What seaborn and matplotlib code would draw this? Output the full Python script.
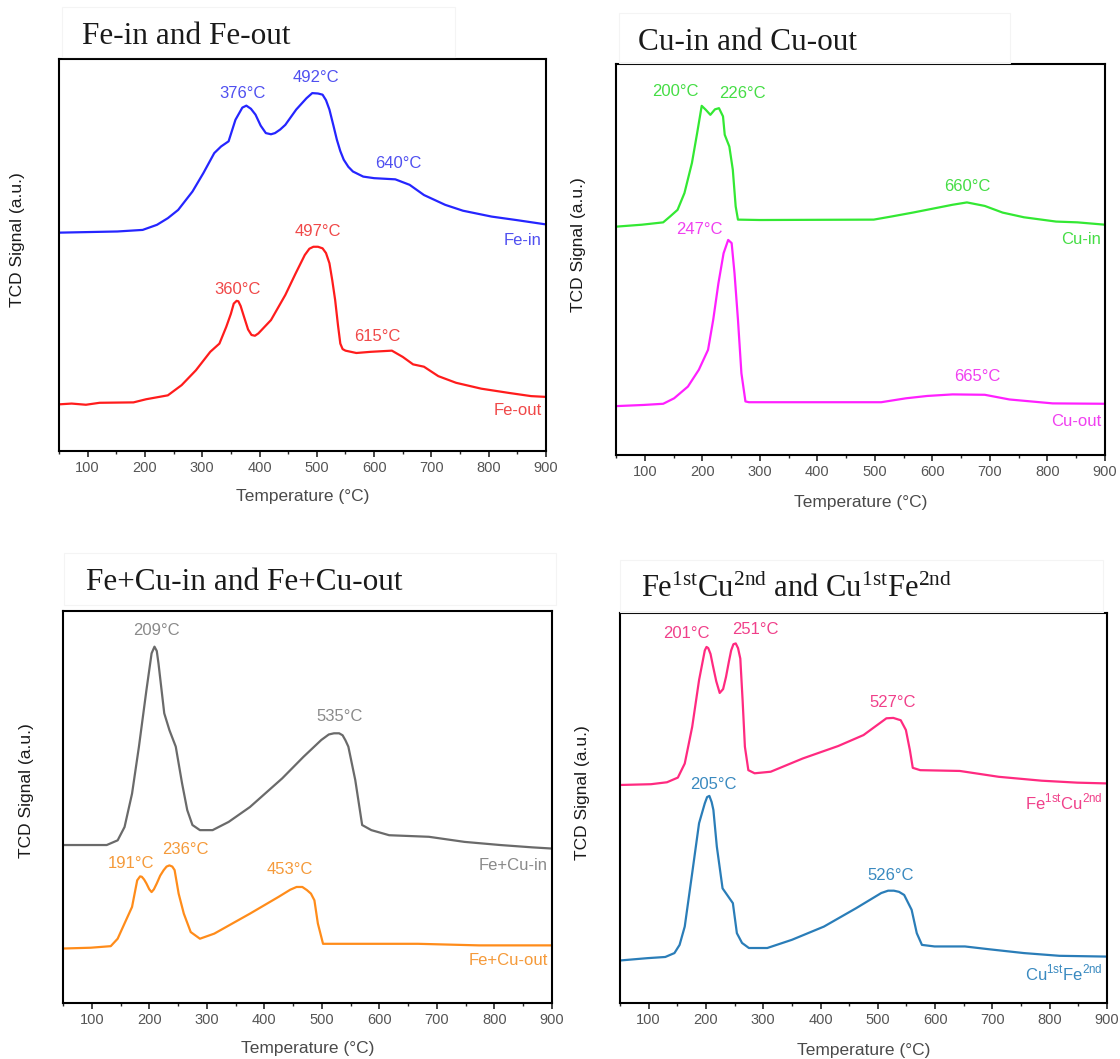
import numpy as np
import pandas as pd
import matplotlib
matplotlib.use("Agg")
import matplotlib.pyplot as plt
from matplotlib.patches import Rectangle
from matplotlib.ticker import MultipleLocator
import seaborn as sns

# ---------------- data (y in arbitrary units 0-100) ----------------
fe_in_T = [50, 152, 196, 221, 240, 258, 283, 302, 321, 333, 346, 358, 370, 377, 385, 393, 402, 411, 420, 427, 436,
           445, 464, 482, 492, 502, 510, 516, 522, 529, 535, 541, 547, 555, 563, 581, 600, 637, 662, 687, 724, 755,
           805, 849, 900]
fe_in_v = [55.7, 56.0, 56.4, 57.7, 59.4, 61.5, 66.2, 70.9, 76.0, 77.7, 79.0, 84.5, 87.6, 88.1, 87.3, 85.8, 83.0, 81.1,
           80.8, 81.1, 82.0, 83.2, 87.1, 90.0, 91.3, 91.2, 90.9, 89.5, 87.1, 83.0, 79.4, 76.5, 74.3, 72.5, 71.3, 70.0,
           69.6, 69.3, 67.9, 65.3, 62.8, 61.3, 59.8, 58.9, 57.8]
fe_out_T = [50, 72, 97, 121, 180, 202, 240, 264, 289, 314, 330, 342, 350, 355, 360, 363, 367, 373, 380, 386, 392, 398,
            420, 445, 463, 479, 487, 494, 502, 510, 516, 522, 527, 532, 537, 541, 545, 550, 569, 594, 631, 650, 668,
            687, 712, 743, 787, 836, 874, 900]
fe_out_v = [11.9, 12.1, 11.8, 12.3, 12.4, 13.2, 14.2, 16.8, 20.6, 25.3, 27.4, 31.7, 35.0, 37.6, 38.3, 38.2, 37.0,
            34.2, 31.0, 29.6, 29.4, 30.0, 33.4, 39.8, 45.3, 50.0, 51.6, 52.1, 52.1, 51.7, 50.5, 47.9, 43.5, 38.5, 32.0,
            27.4, 26.0, 25.6, 25.0, 25.3, 25.6, 24.0, 22.1, 21.5, 19.1, 17.4, 15.9, 14.8, 14.0, 13.8]

cu_in_T = [50, 95, 132, 144, 157, 169, 182, 191, 199, 206, 214, 222, 229, 236, 239, 247, 253, 258, 262, 300, 498,
           529, 566, 604, 635, 660, 691, 722, 759, 815, 852, 900]
cu_in_v = [58.4, 58.9, 59.5, 61.0, 62.7, 67.0, 74.7, 82.3, 89.3, 88.3, 87.0, 88.4, 88.7, 86.6, 81.9, 78.9, 73.0,
           63.6, 60.2, 60.1, 60.2, 61.0, 62.0, 63.1, 64.0, 64.6, 63.7, 62.0, 60.8, 59.7, 59.5, 58.9]
cu_out_T = [50, 98, 132, 151, 175, 194, 210, 219, 228, 237, 245, 251, 256, 262, 268, 275, 281, 511, 554, 591, 635,
            691, 734, 809, 900]
cu_out_v = [12.5, 12.8, 13.1, 14.5, 17.5, 21.8, 26.9, 34.6, 43.9, 51.6, 55.0, 54.2, 46.5, 34.6, 20.9, 13.7, 13.5,
            13.5, 14.5, 15.1, 15.5, 15.4, 14.2, 13.2, 13.1]

fecu_in_T = [50, 126, 145, 157, 170, 182, 195, 204, 209, 213, 216, 226, 235, 246, 257, 266, 275, 288, 310, 338, 375,
             431, 468, 499, 512, 521, 530, 536, 541, 546, 558, 570, 586, 617, 686, 748, 810, 866, 900]
fecu_in_v = [40.3, 40.3, 41.5, 44.9, 53.4, 65.4, 79.8, 89.2, 90.9, 89.8, 86.6, 73.9, 69.6, 65.4, 56.0, 49.2, 45.4,
             44.1, 44.1, 46.2, 50.0, 57.3, 62.8, 67.1, 68.5, 68.8, 68.8, 68.3, 67.0, 65.4, 56.9, 45.4, 44.1, 42.8,
             42.4, 41.1, 40.3, 39.7, 39.4]
fecu_out_T = [50, 98, 133, 145, 157, 170, 179, 184, 187, 191, 195, 200, 204, 208, 213, 219, 225, 230, 235, 240, 244,
              251, 260, 272, 288, 313, 375, 425, 445, 456, 466, 474, 481, 487, 493, 502, 561, 667, 773, 900]
fecu_out_v = [13.9, 14.1, 14.5, 16.4, 20.3, 24.5, 31.3, 32.3, 32.2, 31.5, 30.5, 29.0, 28.3, 29.0, 30.5, 32.5, 33.9,
              34.8, 35.1, 34.8, 33.9, 27.9, 22.8, 18.1, 16.4, 17.7, 22.8, 27.1, 28.9, 29.6, 29.6, 28.8, 27.9, 26.2,
              20.3, 15.1, 15.1, 15.1, 14.7, 14.7]

fc_T = [50, 104, 132, 151, 163, 176, 188, 198, 201, 204, 208, 212, 218, 224, 230, 235, 240, 244, 248, 252, 256, 260,
        264, 268, 274, 285, 313, 369, 431, 475, 515, 527, 540, 549, 556, 561, 574, 643, 711, 786, 848, 900]
fc_v = [55.9, 56.1, 56.6, 57.8, 61.4, 70.8, 82.8, 90.4, 91.3, 91.0, 89.5, 86.6, 82.5, 79.5, 80.5, 83.6, 87.5, 90.4,
        92.0, 92.2, 91.0, 88.3, 77.6, 65.7, 59.7, 58.9, 59.3, 62.7, 65.9, 68.7, 73.0, 73.1, 72.5, 70.0, 64.8, 60.3,
        59.7, 59.5, 58.0, 57.0, 56.5, 56.3]
cf_T = [50, 98, 129, 145, 154, 163, 176, 188, 198, 202, 206, 210, 213, 219, 229, 238, 247, 254, 263, 275, 307, 350,
        406, 462, 506, 518, 528, 537, 546, 559, 568, 577, 599, 652, 693, 755, 817, 900]
cf_v = [10.9, 11.5, 11.8, 12.8, 14.9, 19.6, 33.3, 46.1, 51.2, 52.8, 53.1, 51.5, 49.5, 40.1, 29.4, 27.5, 25.6, 17.9,
        15.4, 14.1, 14.1, 16.2, 19.6, 24.3, 28.2, 28.8, 28.8, 28.5, 27.7, 23.9, 17.9, 14.9, 14.5, 14.5, 13.8, 12.8,
        12.1, 11.9]

xticks = [100, 200, 300, 400, 500, 600, 700, 800, 900]

# ---------------- style ----------------
sns.set_style("white")
plt.rcParams["font.family"] = ["Liberation Sans", "DejaVu Sans"]
plt.rcParams["mathtext.fontset"] = "custom"
plt.rcParams["mathtext.rm"] = "Liberation Serif"
plt.rcParams["mathtext.sf"] = "Liberation Sans"

W, H = 1120, 1059
fig = plt.figure(figsize=(W / 100, H / 100), dpi=100)
fig.patch.set_facecolor("white")


def frac_box(l, t, r, b):
    return [l / W, (H - b) / H, (r - l) / W, (b - t) / H]


panels = [
    dict(box=(59, 59, 546, 451), title="Fe-in and Fe-out", tsize=22.5, tpos=(82, 37), tbox=(62, 7, 455, 57),
         ylab=(18, 240), xlab_y=497,
         series=[(fe_in_T, fe_in_v, "#2525ff"), (fe_out_T, fe_out_v, "#ff1c1c")],
         notes=[("376°C", 370, 91.2, "#5050f0"), ("492°C", 499, 95.2, "#5050f0"), ("640°C", 642, 73.4, "#5050f0"),
                ("497°C", 501, 56.0, "#f04848"), ("360°C", 362, 41.2, "#f04848"), ("615°C", 605, 29.1, "#f04848")],
         names=[("Fe-in", 53.8, "#5050f0"), ("Fe-out", 10.4, "#f04848")]),
    dict(box=(616, 64, 1105, 455), title="Cu-in and Cu-out", tsize=22.5, tpos=(638, 42), tbox=(619, 13, 1010, 63),
         ylab=(579, 245), xlab_y=502,
         series=[(cu_in_T, cu_in_v, "#33e833"), (cu_out_T, cu_out_v, "#ff20ff")],
         notes=[("200°C", 154, 93.0, "#45dd45"), ("226°C", 270, 92.4, "#45dd45"), ("660°C", 661, 68.7, "#45dd45"),
                ("247°C", 195, 57.6, "#f040f0"), ("665°C", 678, 20.2, "#f040f0")],
         names=[("Cu-in", 55.0, "#45dd45"), ("Cu-out", 8.5, "#f040f0")]),
    dict(box=(63, 611, 552, 1003), title="Fe+Cu-in and Fe+Cu-out", tsize=22.5, tpos=(86, 583),
         tbox=(64, 553, 556, 605), ylab=(26, 791), xlab_y=1048,
         series=[(fecu_in_T, fecu_in_v, "#6a6a6a"), (fecu_out_T, fecu_out_v, "#ff8c1a")],
         notes=[("209°C", 213, 95.1, "#8a8a8a"), ("535°C", 530, 73.0, "#8a8a8a"), ("191°C", 169, 35.7, "#f59a3a"),
                ("236°C", 262, 39.1, "#f59a3a"), ("453°C", 445, 34.0, "#f59a3a")],
         names=[("Fe+Cu-in", 35.1, "#8a8a8a"), ("Fe+Cu-out", 10.9, "#f59a3a")]),
    dict(box=(620, 613, 1107, 1003),
         title=r"Fe$^{\mathrm{1st}}$Cu$^{\mathrm{2nd}}$ and Cu$^{\mathrm{1st}}$Fe$^{\mathrm{2nd}}$", tsize=22,
         tpos=(641, 588), tbox=(620, 560, 1103, 612),
         ylab=(582, 793), xlab_y=1050,
         series=[(fc_T, fc_v, "#ff2a80"), (cf_T, cf_v, "#2a7db8")],
         notes=[("201°C", 165, 94.7, "#f0408a"), ("251°C", 287, 95.7, "#f0408a"), ("527°C", 525, 77.0, "#f0408a"),
                ("205°C", 213, 55.9, "#3a8ac0"), ("526°C", 523, 32.8, "#3a8ac0")],
         names=[(r"Fe$^{\mathsf{1st}}$Cu$^{\mathsf{2nd}}$", 51.6, "#f0408a"),
                (r"Cu$^{\mathsf{1st}}$Fe$^{\mathsf{2nd}}$", 7.7, "#3a8ac0")]),
]

for p in panels:
    l, t, r, b = p["box"]
    ax = fig.add_axes(frac_box(l, t, r, b))
    for T, v, c in p["series"]:
        df = pd.DataFrame({"T": T, "v": v})
        sns.lineplot(data=df, x="T", y="v", ax=ax, color=c, linewidth=1.6, estimator=None, sort=False)
    ax.set_xlim(50, 900)
    ax.set_ylim(0, 100)
    ax.set_yticks([])
    ax.set_xticks(xticks)
    ax.set_xticklabels([str(x) for x in xticks])
    ax.xaxis.set_minor_locator(MultipleLocator(50))
    ax.tick_params(axis="x", which="major", direction="out", length=4.5, width=1.2, pad=3,
                   labelsize=10.5, labelcolor="#555555", bottom=True)
    ax.tick_params(axis="x", which="minor", direction="out", length=2.5, width=1.0, bottom=True)
    for s in ax.spines.values():
        s.set_linewidth(1.5)
        s.set_color("black")
    ax.set_xlabel("")
    ax.set_ylabel("")
    for txt, x, y, c in p["notes"]:
        ax.text(x, y, txt, color=c, fontsize=12, ha="center", va="center")
    for txt, y, c in p["names"]:
        ax.text(893, y, txt, color=c, fontsize=12, ha="right", va="center")
    # title with faint frame
    tl, tt, tr, tb = p["tbox"]
    fig.patches.append(Rectangle((tl / W, (H - tb) / H), (tr - tl) / W, (tb - tt) / H,
                                 transform=fig.transFigure, fill=False, edgecolor="#f4f4f4", linewidth=0.8))
    fig.text(p["tpos"][0] / W, (H - p["tpos"][1]) / H, p["title"], fontsize=p["tsize"],
             family=["Liberation Serif", "DejaVu Serif"], color="#1a1a1a", ha="left", va="center")
    fig.text(p["ylab"][0] / W, (H - p["ylab"][1]) / H, "TCD Signal (a.u.)", rotation=90, fontsize=12.5,
             color="#1a1a1a", ha="center", va="center")
    fig.text(((l + r) / 2) / W, (H - p["xlab_y"]) / H, "Temperature (°C)", fontsize=12.5,
             color="#4a4a4a", ha="center", va="center")

fig.savefig("out.png", dpi=100, facecolor="white")
